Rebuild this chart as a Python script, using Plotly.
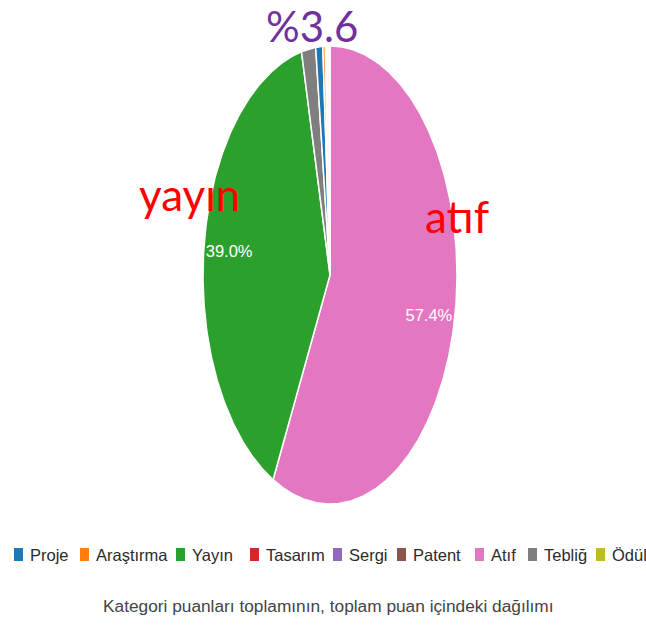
import numpy as np
import plotly.graph_objects as go

# Category shares of the total score (percent)
categories = ["Proje", "Araştırma", "Yayın", "Tasarım", "Sergi", "Patent", "Atıf", "Tebliğ", "Ödül"]
shares = [0.9, 0.3, 39.0, 0.1, 0.1, 0.2, 57.4, 1.8, 0.2]
colors = ["#1f77b4", "#ff7f0e", "#2ca02c", "#d62728", "#9467bd",
          "#8c564b", "#e377c2", "#7f7f7f", "#bcbd22"]
caption = "Kategori puanları toplamının, toplam puan içindeki dağılımı"
rest_label = "%3.6"
callouts = ["yayın", "atıf"]

W, H = 646, 627
CX, CY, RX, RY = 330, 275, 127, 229          # pie centre and radii in pixels

fig = go.Figure()

# slices, largest first, clockwise from 12 o'clock
total = float(sum(shares))
order = sorted(range(len(shares)), key=lambda i: -shares[i])
start = 0.0
label_x, label_y, label_t = [], [], []
for i in order:
    frac = shares[i] / total
    n = max(4, int(frac * 720))
    th = np.linspace(start, start + frac, n) * 2 * np.pi
    xs = np.concatenate([[0.0], np.sin(th), [0.0]])
    ys = np.concatenate([[0.0], np.cos(th), [0.0]])
    fig.add_trace(go.Scatter(
        x=xs, y=ys, mode="lines", fill="toself",
        fillcolor=colors[i], line=dict(color="white", width=1.5),
        name=categories[i], showlegend=False, hoverinfo="skip"))
    if frac >= 0.05:
        mid = (start + frac / 2) * 2 * np.pi
        label_x.append(0.8 * np.sin(mid))
        label_y.append(0.8 * np.cos(mid))
        label_t.append(f"{shares[i]:.1f}%")
    start += frac

fig.add_trace(go.Scatter(
    x=label_x, y=label_y, text=label_t, mode="text",
    textfont=dict(family="Liberation Sans, Arial, sans-serif",
                  size=16.5, color="white"),
    showlegend=False, hoverinfo="skip"))

# legend row
swatch_x = [14, 80, 176, 250, 333, 397, 475, 528, 596]
leg_top, leg_bot = 548, 561
shapes, annotations = [], []
for cat, col, sx in zip(categories, colors, swatch_x):
    shapes.append(dict(type="rect", xref="paper", yref="paper",
                       x0=sx / W, x1=(sx + 9) / W,
                       y0=1 - leg_bot / H, y1=1 - leg_top / H,
                       fillcolor=col, line=dict(width=0)))
    annotations.append(dict(text=cat, xref="paper", yref="paper",
                            x=(sx + 14) / W, y=1 - 555 / H,
                            xanchor="left", yanchor="middle", showarrow=False,
                            font=dict(family="Liberation Sans, Arial, sans-serif",
                                      size=16.5, color="#2b2b2b")))

annotations.append(dict(text=caption, xref="paper", yref="paper",
                        x=328 / W, y=1 - 606 / H, xanchor="center", yanchor="middle",
                        showarrow=False,
                        font=dict(family="Liberation Sans, Arial, sans-serif",
                                  size=17.3, color="#444444")))

# hand-written style callouts
annotations.append(dict(text=rest_label, xref="paper", yref="paper",
                        x=312 / W, y=1, xanchor="center", yanchor="top",
                        showarrow=False, borderpad=0,
                        font=dict(family="Lato, sans-serif", size=42, color="#7030a0")))
annotations.append(dict(text=callouts[0], xref="paper", yref="paper",
                        x=189 / W, y=1 - 194 / H, xanchor="center", yanchor="middle",
                        showarrow=False,
                        font=dict(family="Lato, sans-serif", size=44, color="#ff0000")))
annotations.append(dict(text=callouts[1], xref="paper", yref="paper",
                        x=457 / W, y=1 - 216 / H, xanchor="center", yanchor="middle",
                        showarrow=False,
                        font=dict(family="Lato, sans-serif", size=44, color="#ff0000")))

fig.update_layout(
    width=W, height=H,
    margin=dict(l=0, r=0, t=0, b=0),
    paper_bgcolor="white", plot_bgcolor="white",
    xaxis=dict(range=[(0 - CX) / RX, (W - CX) / RX], visible=False, fixedrange=True),
    yaxis=dict(range=[(CY - H) / RY, CY / RY], visible=False, fixedrange=True),
    shapes=shapes, annotations=annotations,
    showlegend=False,
)

fig.write_html("out.html")
